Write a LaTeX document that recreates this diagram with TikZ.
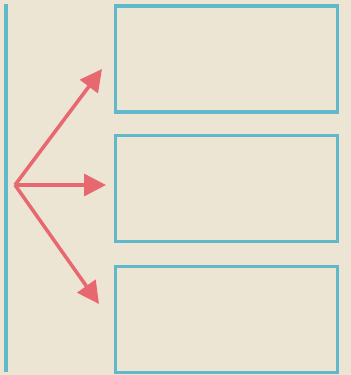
\documentclass[tikz,border=0pt]{standalone}
\usepackage{xcolor}
\usepackage{tikz}
\usetikzlibrary{arrows.meta}

\definecolor{paper}{RGB}{237,229,212}
\definecolor{boxcyan}{RGB}{96,184,202}
\definecolor{arrowred}{RGB}{232,104,112}

\begin{document}
\begin{tikzpicture}[x=0.02cm,y=-0.02cm,
  panel/.style={draw=boxcyan,line width=1.8pt,minimum width=4.44cm,minimum height=2.12cm,inner sep=0pt},
  ray/.style={draw=arrowred,line width=2pt,-{Triangle[length=0.44cm,width=0.44cm]}}]
  \fill[paper] (0,0) rectangle (351,375);
  \useasboundingbox (0,0) rectangle (351,375);
  \draw[boxcyan,line width=2.2pt] (6,4) -- (6,372);
  \node[panel] (top) at (226.5,59) {};
  \node[panel] (mid) at (226.5,188.5) {};
  \node[panel] (bot) at (226.5,319.5) {};
  \coordinate (src) at (15,185);
  \coordinate (tipA) at (102,69);
  \coordinate (tipB) at (106,185);
  \coordinate (tipC) at (99,304);
  \draw[ray] (src) -- (tipA);
  \draw[ray] (src) -- (tipB);
  \draw[ray] (src) -- (tipC);
\end{tikzpicture}
\end{document}
